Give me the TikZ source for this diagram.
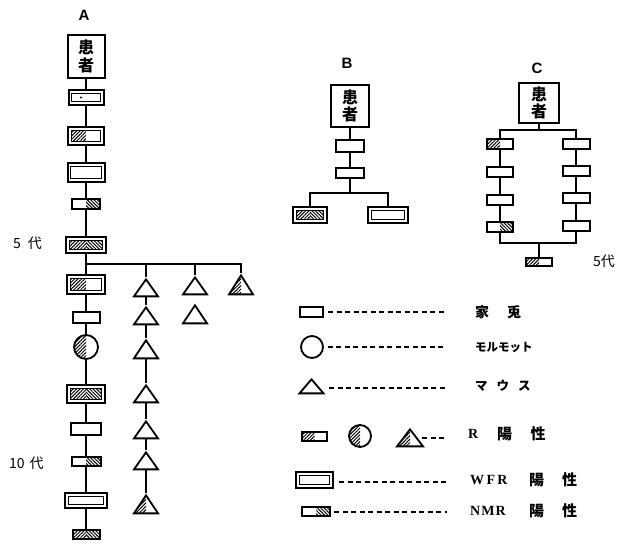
\documentclass[tikz,border=0pt]{standalone}
\usepackage{fontspec}
\newfontfamily\jpfont{Noto Sans CJK JP}
\newfontfamily\labfont{Liberation Sans}
\newfontfamily\serfont{Liberation Serif}
\usetikzlibrary{patterns.meta,shapes.geometric}

\tikzset{
  conn/.style={line width=2pt},
  dsh/.style={line width=2pt, dash pattern=on 5pt off 3.5pt},
  hne/.style={pattern={Lines[angle=45,distance=2.4pt,line width=1pt]}},
  hnw/.style={pattern={Lines[angle=-45,distance=2.4pt,line width=1pt]}},
  bx/.style 2 args={draw, rectangle, line width=2pt, inner sep=0pt,
    minimum width=#1pt, minimum height=#2pt},
  circ/.style={draw, circle, line width=1.8pt, inner sep=0pt, minimum size=#1pt},
  tri/.style 2 args={draw, isosceles triangle, isosceles triangle stretches,
    shape border rotate=90, line width=1.8pt, inner sep=0pt,
    minimum width=#1pt, minimum height=#2pt, anchor=apex},
  lhatch/.style={path picture={\path[hne] (path picture bounding box.south west)
    rectangle (path picture bounding box.north);}},
  rhatch/.style={path picture={\path[hnw] (path picture bounding box.south)
    rectangle (path picture bounding box.north east);}},
  bhatch/.style={path picture={\path[hne] (path picture bounding box.south west)
    rectangle (path picture bounding box.north);
    \path[hnw] (path picture bounding box.south)
    rectangle (path picture bounding box.north east);}},
  wfr/.style 2 args={path picture={
    \path[#1] ([shift={(3.4pt,3.4pt)}]path picture bounding box.south west)
      rectangle ([yshift=-3.4pt]path picture bounding box.north);
    \path[#2] ([yshift=3.4pt]path picture bounding box.south)
      rectangle ([shift={(-3.4pt,-3.4pt)}]path picture bounding box.north east);
    \draw[line width=1.1pt] ([shift={(3.4pt,3.4pt)}]path picture bounding box.south west)
      rectangle ([shift={(-3.4pt,-3.4pt)}]path picture bounding box.north east);}},
  patient/.style={align=center, font=\jpfont\bfseries\fontsize{16}{17.5}\selectfont},
  lbl/.style={font=\labfont\bfseries\fontsize{15}{15}\selectfont, inner sep=0pt},
  gen/.style={font=\jpfont\fontsize{14}{14}\selectfont, inner sep=0pt, anchor=west},
  jt/.style={font=\jpfont\bfseries\fontsize{#1}{#1}\selectfont, inner sep=0pt},
  st/.style={font=\serfont\bfseries\fontsize{14}{14}\selectfont, inner sep=0pt, anchor=west},
}

\begin{document}
\begin{tikzpicture}[x=1pt,y=-1pt]
\fill[white] (0,0) rectangle (622,547);
\useasboundingbox (0,0) rectangle (622,547);

% ---------- pedigree A ----------
\node[lbl] (labA) at (84,15) {A};
\node[bx={37}{43}, patient] (a1) at (86,56.5) {患\\者};
\node[bx={35}{15}, wfr={}{}] (a2) at (86,97.5) {};
\fill ([xshift=-5pt]a2.center) circle (1.2pt);
\node[bx={36}{18}, wfr={hne}{fill=white}] (a3) at (86,136) {};
\node[bx={37}{19}, wfr={}{}] (a4) at (86,172.5) {};
\node[bx={28}{10}, rhatch] (a5) at (86,204) {};
\node[bx={40}{16}, wfr={hne}{hnw}] (a6) at (86,245) {};
\node[bx={38}{19}, wfr={hne}{fill=white}] (a7) at (86,284.5) {};
\node[bx={27}{11}] (a8) at (86,317.5) {};
\node[circ=24, lhatch] (a9) at (86,347) {};
\node[bx={38}{18}, wfr={hne}{hnw}] (a10) at (86,394) {};
\node[bx={30}{12}] (a11) at (86,429) {};
\node[bx={29}{9}, rhatch] (a12) at (86,461) {};
\node[bx={42}{15}, wfr={}{}] (a13) at (86,500.5) {};
\node[bx={27}{9}, bhatch] (a14) at (86,534.5) {};
\foreach \u/\v in {a1/a2,a2/a3,a3/a4,a4/a5,a5/a6,a6/a7,a7/a8,a8/a9,a9/a10,
                   a10/a11,a11/a12,a12/a13,a13/a14}
  \draw[conn] (\u) -- (\v);

\node[gen] (gen5) at (13,243) {5\kern7pt 代};
\node[gen] (gen10) at (9,463) {10\kern5pt 代};

% mice branching off generation 5
\coordinate (aj) at (86,264);
\node[tri={24}{17}] (m1) at (146,277) {};
\node[tri={24}{17}] (m2) at (146,305) {};
\node[tri={24}{18}] (m3) at (146,338) {};
\node[tri={24}{17}] (m4) at (146,383) {};
\node[tri={24}{17}] (m5) at (146,419) {};
\node[tri={24}{17}] (m6) at (146,450) {};
\node[tri={24}{18}, lhatch] (m7) at (146,493) {};
\foreach \u/\v in {m1/m2,m2/m3,m3/m4,m4/m5,m5/m6,m6/m7}
  \draw[conn] (\u) -- (\v);
\node[tri={24}{17}] (n1) at (195,275) {};
\node[tri={24}{18}] (n2) at (195,303) {};
\node[tri={24}{19}, lhatch] (p1) at (241,273) {};
\draw[conn] (aj) -| (p1);
\draw[conn] (aj -| m1) -- (m1);
\draw[conn] (aj -| n1) -- (n1);

% ---------- pedigree B ----------
\node[lbl] (labB) at (347,63) {B};
\node[bx={38}{42}, patient] (b0) at (350,106) {患\\者};
\node[bx={28}{12}] (b1) at (350,146) {};
\node[bx={28}{10}] (b2) at (350,173) {};
\coordinate (bj) at (350,193);
\node[bx={34}{16}, wfr={hne}{hnw}] (bl) at (310,215) {};
\node[bx={40}{16}, wfr={}{}] (br) at (388,215) {};
\draw[conn] (b0) -- (b1);
\draw[conn] (b1) -- (b2);
\draw[conn] (b2) -- (bj);
\draw[conn] (bl) |- (bj) -| (br);

% ---------- pedigree C ----------
\node[lbl] (labC) at (537,68) {C};
\node[bx={40}{40}, patient] (c0) at (539,103) {患\\者};
\coordinate (ctop) at (539,130);
\coordinate (cbot) at (539,243);
\node[bx={26}{10}, lhatch] (cl1) at (500,144) {};
\node[bx={26}{10}] (cl2) at (500,172) {};
\node[bx={26}{10}] (cl3) at (500,200) {};
\node[bx={26}{10}, rhatch] (cl4) at (500,227) {};
\node[bx={27}{10}] (cr1) at (576,144) {};
\node[bx={27}{10}] (cr2) at (576,171) {};
\node[bx={27}{10}] (cr3) at (576,198) {};
\node[bx={27}{10}] (cr4) at (576,226) {};
\node[bx={26}{8}, lhatch] (c5) at (539,262) {};
\draw[conn] (c0) -- (ctop);
\draw[conn] (cl1) |- (ctop) -| (cr1);
\foreach \u/\v in {cl1/cl2,cl2/cl3,cl3/cl4,cr1/cr2,cr2/cr3,cr3/cr4}
  \draw[conn] (\u) -- (\v);
\draw[conn] (cl4) |- (cbot) -| (cr4);
\draw[conn] (cbot) -- (c5);
\node[gen] (gen5c) at (593,261) {5代};

% ---------- key ----------
\node[bx={23}{10}] (k1) at (311.5,312) {};
\coordinate (k1e) at (446,312);
\draw[dsh] ([xshift=4pt]k1.east) -- (k1e);
\node[jt=14, anchor=west] (k1t) at (475,312) {家\kern18pt 兎};

\node[circ=22] (k2) at (312,347) {};
\coordinate (k2e) at (446,347);
\draw[dsh] ([xshift=4pt]k2.east) -- (k2e);
\node[jt=11.5, anchor=west] (k2t) at (475,347) {モルモット};

\node[tri={24}{14}] (k3) at (311.5,377) {};
\coordinate (k3e) at (446,388);
\draw[dsh] ([xshift=4pt]k3.right corner |- k3e) -- (k3e);
\node[jt=12.5, anchor=west] (k3t) at (475,386) {マ\kern9pt ウ\kern9pt ス};

\node[bx={25}{9}, lhatch] (k4a) at (314.5,436.5) {};
\node[circ=22, lhatch] (k4b) at (360,436) {};
\node[tri={26}{17}, lhatch] (k4c) at (410,427) {};
\coordinate (k4e) at (447,438);
\draw[dsh] ([xshift=3pt]k4c.east |- k4e) -- (k4e);
\node[st] (k4r) at (468,434) {R};
\node[jt=15] (k4y) at (504.5,434) {陽};
\node[jt=15] (k4s) at (538,434) {性};

\node[bx={37}{16}, wfr={}{}] (k5) at (314.5,480) {};
\coordinate (k5e) at (447,482);
\draw[dsh] ([xshift=5pt]k5.east |- k5e) -- (k5e);
\node[st] (k5r) at (470,480) {W\kern2.5pt F\kern2pt R};
\node[jt=15] (k5y) at (536.5,480) {陽};
\node[jt=15] (k5s) at (569.5,480) {性};

\node[bx={28}{9}, rhatch] (k6) at (316,511.5) {};
\coordinate (k6e) at (447,512);
\draw[dsh] ([xshift=3pt]k6.east |- k6e) -- (k6e);
\node[st] (k6r) at (470,511) {N\kern1pt M\kern1pt R};
\node[jt=15] (k6y) at (536.5,511) {陽};
\node[jt=15] (k6s) at (569.5,511) {性};
\end{tikzpicture}
\end{document}
